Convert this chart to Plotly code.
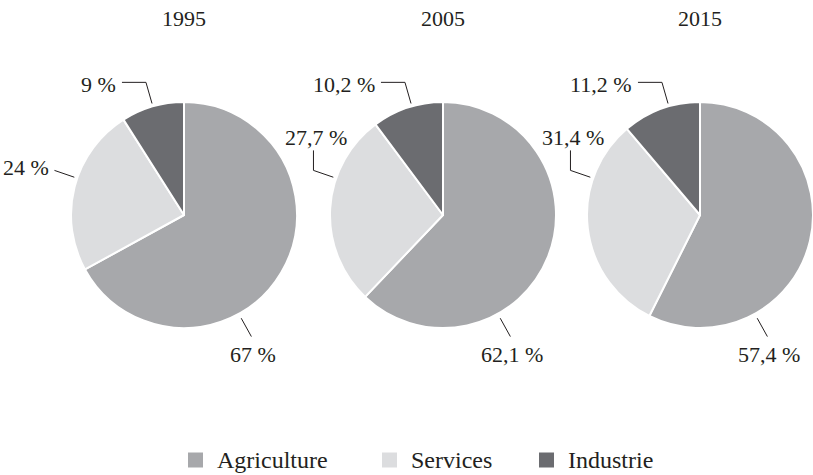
import math
import plotly.graph_objects as go

# ---------------- data ----------------
years = ["1995", "2005", "2015"]
categories = ["Agriculture", "Services", "Industrie"]
agriculture = [67, 62.1, 57.4]
services = [24, 27.7, 31.4]
industrie = [9, 10.2, 11.2]

# ---------------- style ----------------
W, H = 813, 475
colors = ["#a7a8ab", "#dcdddf", "#6b6c70"]
text_color = "#231f20"
font_family = "Liberation Serif, Times New Roman, serif"
centers_x = [184, 443, 700]   # pie centres (px)
center_y = 215
R = 113

def px(x):
    return x / W

def py(y):
    return 1 - y / H

def fmt(v):
    return (f"{v:g}").replace(".", ",") + " %"

fig = go.Figure()
shapes = []
annotations = []

series = [agriculture, services, industrie]

for i, yr in enumerate(years):
    cx = centers_x[i]
    vals = [s[i] for s in series]
    fig.add_trace(go.Pie(
        labels=categories,
        values=vals,
        sort=False,
        direction="clockwise",
        rotation=0,
        textinfo="none",
        marker=dict(colors=colors, line=dict(color="white", width=2)),
        domain=dict(x=[px(cx - R), min(px(cx + R), 1)],
                    y=[py(center_y + R), py(center_y - R)]),
        showlegend=False,
        name=yr,
    ))
    # title
    annotations.append(dict(x=px(cx), y=py(18), xref="paper", yref="paper",
                            text=yr, showarrow=False, xanchor="center", yanchor="middle",
                            font=dict(size=22, color=text_color, family=font_family)))

    # labels with leader lines
    for k, cat in enumerate(categories):
        txt = fmt(vals[k])
        if cat == "Industrie":
            ang, gap, L = 344, 3, 22
        elif cat == "Services":
            ang, gap, L = 289, 3, 21
        else:
            ang, gap, L = 151, 5, 21
        s, c = math.sin(math.radians(ang)), -math.cos(math.radians(ang))
        r0 = R + gap
        p0 = (cx + r0 * s, center_y + r0 * c)
        p1 = (cx + (r0 + L) * s, center_y + (r0 + L) * c)
        pts = [p0, p1]
        if cat == "Industrie":
            p2 = (p1[0] - 24, p1[1])
            pts.append(p2)
            tx, ty, xa = p2[0] - 4, p2[1] + 2, "right"
        elif cat == "Services":
            if i == 0:
                tx, ty, xa = p1[0] - 3, p1[1] - 3, "right"
            else:
                p2 = (p1[0], p1[1] - 20)
                pts.append(p2)
                tx, ty, xa = p2[0] + 3, p2[1] - 13, "center"
        else:
            tx, ty, xa = cx + 69, center_y + 139, "center"
        path = "M " + " L ".join(f"{px(x):.5f},{py(y):.5f}" for x, y in pts)
        shapes.append(dict(type="path", path=path, xref="paper", yref="paper",
                           line=dict(color=text_color, width=1)))
        annotations.append(dict(x=px(tx), y=py(ty), xref="paper", yref="paper",
                                text=txt, showarrow=False, xanchor=xa, yanchor="middle",
                                font=dict(size=22, color=text_color, family=font_family)))

# ---------------- legend (manual) ----------------
legend_x = [188, 382, 539]
legend_y = 460
sq = 15
for k, cat in enumerate(categories):
    x0 = legend_x[k]
    shapes.append(dict(type="rect", xref="paper", yref="paper",
                       x0=px(x0), x1=px(x0 + sq),
                       y0=py(legend_y + sq / 2), y1=py(legend_y - sq / 2),
                       fillcolor=colors[k], line=dict(width=0)))
    annotations.append(dict(x=px(x0 + 27), y=py(legend_y), xref="paper", yref="paper",
                            text=cat, showarrow=False, xanchor="left", yanchor="middle",
                            font=dict(size=24, color=text_color, family=font_family)))

fig.update_layout(
    width=W, height=H,
    margin=dict(l=0, r=0, t=0, b=0),
    paper_bgcolor="white", plot_bgcolor="white",
    shapes=shapes, annotations=annotations,
    font=dict(family=font_family, color=text_color),
)

fig.write_html("out.html",
               config={"displayModeBar": False},
               post_script="document.body.style.margin='0';document.body.style.overflow='hidden';")
